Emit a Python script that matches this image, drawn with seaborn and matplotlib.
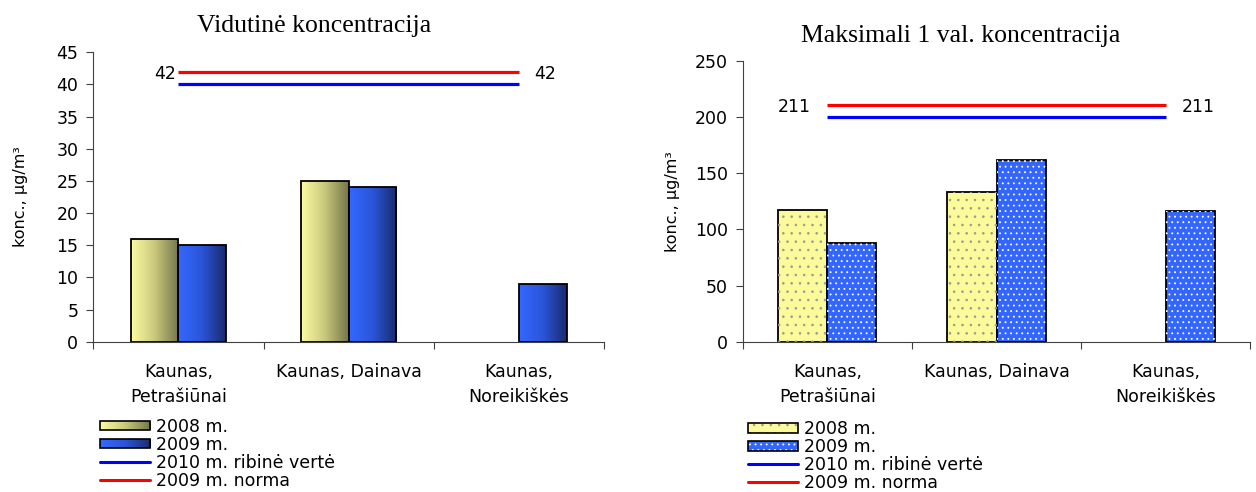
import numpy as np
import pandas as pd
import matplotlib
matplotlib.use("Agg")
import matplotlib.pyplot as plt
import seaborn as sns
from matplotlib.colors import LinearSegmentedColormap
from matplotlib.patches import Rectangle, Patch
from matplotlib.lines import Line2D
from matplotlib.legend_handler import HandlerBase
from matplotlib.image import BboxImage
from matplotlib.transforms import Bbox, TransformedBbox

# ---- data -------------------------------------------------------------
stations = ["Kaunas,\nPetrašiūnai", "Kaunas, Dainava", "Kaunas,\nNoreikiškės"]
years = ["2008 m.", "2009 m."]

mean_2008 = [16, 25, np.nan]
mean_2009 = [15, 24, 9]
max_2008 = [117, 133, np.nan]
max_2009 = [88, 162, 116]

mean_norm_2009 = 42
mean_limit_2010 = 40
max_norm_2009 = 211
max_limit_2010 = 200

mean_ticks = list(range(0, 46, 5))
max_ticks = list(range(0, 251, 50))

titles = ["Vidutinė koncentracija", "Maksimali 1 val. koncentracija"]
ylabel = "konc., µg/m³"
limit_label = "2010 m. ribinė vertė"
norm_label = "2009 m. norma"

# ---- styling ----------------------------------------------------------
sns.set_style("ticks")
plt.rcParams["font.family"] = ["DejaVu Sans"]
plt.rcParams["hatch.linewidth"] = 0.6
for key in ("text.color", "axes.labelcolor", "xtick.labelcolor", "ytick.labelcolor"):
    plt.rcParams[key] = "black"

W, H = 1256, 492
fig = plt.figure(figsize=(W / 100, H / 100), dpi=100)


def px_axes(x0, x1, ytop, ybot):
    return fig.add_axes([x0 / W, 1 - ybot / H, (x1 - x0) / W, (ybot - ytop) / H])


ax_mean = px_axes(93.3, 604.0, 52.3, 341.7)
ax_max = px_axes(742.7, 1250.3, 61.0, 341.7)

yellow = "#fbfb9c"
blue = "#3366ff"
grad_yellow = LinearSegmentedColormap.from_list("gy", ["#fcfca2", "#c8c87c", "#74744a"])
grad_blue = LinearSegmentedColormap.from_list("gb", ["#3468ff", "#2a55d8", "#1a2b6e"])
grad = np.linspace(0, 1, 128).reshape(1, -1)
dot_styles = [("#9a9a8a", ".."), ("white", "...")]


def frame(values_2008, values_2009):
    df = pd.DataFrame({
        "station": stations * 2,
        "year": [years[0]] * len(stations) + [years[1]] * len(stations),
        "value": list(values_2008) + list(values_2009),
    })
    return df.dropna()


def bars(ax, df, width):
    sns.barplot(data=df, x="station", y="value", hue="year", order=stations,
                hue_order=years, palette=[yellow, blue], saturation=1, width=width,
                gap=0, errorbar=None, edgecolor="black", linewidth=1.3, legend=False,
                ax=ax, zorder=2)


def style_axes(ax, ticks, title_xy, title, ylab_x):
    ax.set_xlim(-0.5, len(stations) - 0.5)
    ax.set_ylim(ticks[0], ticks[-1])
    ax.set_yticks(ticks)
    ax.set_yticklabels([str(t) for t in ticks])
    ax.set_xticks(range(len(stations)))
    ax.set_xticklabels(stations, linespacing=1.5)
    ax.set_xticks(np.arange(len(stations) + 1) - 0.5, minor=True)
    ax.tick_params(axis="x", which="major", length=0, pad=15, labelsize=12.5)
    ax.tick_params(axis="x", which="minor", length=5, width=0.8, color="#404040")
    ax.tick_params(axis="y", length=4.8, width=0.8, pad=6, labelsize=12.5, color="#404040")
    ax.set_xlabel("")
    ax.set_ylabel(ylabel, fontsize=11.5)
    ax.yaxis.set_label_coords(ylab_x, 0.5)
    for side in ("top", "right"):
        ax.spines[side].set_visible(False)
    for side in ("left", "bottom"):
        ax.spines[side].set_color("#404040")
        ax.spines[side].set_linewidth(0.8)
    fig.text(title_xy[0] / W, 1 - title_xy[1] / H, title, ha="center", va="baseline",
             fontsize=18.5, family="Liberation Serif")


def ref_lines(ax, norm, limit, pad_left, pad_right):
    x0, x1 = 0, len(stations) - 1
    ax.hlines(norm, x0, x1, color="#ff0000", lw=2.3, zorder=4)
    ax.hlines(limit, x0, x1, color="#0000ff", lw=2.3, zorder=4)
    ax.annotate(str(norm), (x0, norm), xytext=(-pad_left, 0), textcoords="offset points",
                ha="right", va="center_baseline", fontsize=12.5)
    ax.annotate(str(norm), (x1, norm), xytext=(pad_right, 0), textcoords="offset points",
                ha="left", va="center_baseline", fontsize=12.5)


# ---- left panel: annual mean, gradient bars ---------------------------
bars(ax_mean, frame(mean_2008, mean_2009), 0.56)
for cmap, cont in zip([grad_yellow, grad_blue], ax_mean.containers):
    for bar in cont:
        x, y = bar.get_x(), bar.get_y()
        w, h = bar.get_width(), bar.get_height()
        if not np.isfinite(h):
            continue
        im = ax_mean.imshow(grad, cmap=cmap, extent=(x, x + w, y, y + h), aspect="auto",
                            interpolation="bilinear", zorder=2.1)
        im.set_clip_path(bar)
        bar.set_facecolor("none")
        bar.set_zorder(2.2)
ref_lines(ax_mean, mean_norm_2009, mean_limit_2010, 2, 11)
style_axes(ax_mean, mean_ticks, (314, 31.7), titles[0], -0.128)

# ---- right panel: 1-hour maximum, dotted bars -------------------------
bars(ax_max, frame(max_2008, max_2009), 0.58)
for (dot_color, hatch), cont in zip(dot_styles, ax_max.containers):
    for bar in cont:
        x, y = bar.get_x(), bar.get_y()
        w, h = bar.get_width(), bar.get_height()
        if not np.isfinite(h):
            continue
        dots = Rectangle((x, y), w, h, facecolor="none", edgecolor=dot_color,
                         hatch=hatch, lw=0, zorder=2.1)
        ax_max.add_patch(dots)
        dots.set_clip_path(bar)
ref_lines(ax_max, max_norm_2009, max_limit_2010, 12, 11.5)
style_axes(ax_max, max_ticks, (961, 41.7), titles[1], -0.1245)


# ---- legends ----------------------------------------------------------
class GradientBox(HandlerBase):
    def __init__(self, cmap):
        super().__init__()
        self.cmap = cmap

    def create_artists(self, legend, orig_handle, xdescent, ydescent, width, height,
                       fontsize, trans):
        h = height * 0.8
        x0, y0 = -xdescent, -ydescent + (height - h) / 2
        bb = TransformedBbox(Bbox.from_bounds(x0, y0, width, h), trans)
        img = BboxImage(bb, cmap=self.cmap, norm=plt.Normalize(0, 1), interpolation="bilinear")
        img.set_data(grad)
        edge = Rectangle((x0, y0), width, h, facecolor="none", edgecolor="black",
                         lw=1.2, transform=trans)
        return [img, edge]


class DottedBox(HandlerBase):
    def __init__(self, face, dots, hatch):
        super().__init__()
        self.face, self.dots, self.hatch = face, dots, hatch

    def create_artists(self, legend, orig_handle, xdescent, ydescent, width, height,
                       fontsize, trans):
        h = height * 0.85
        x0, y0 = -xdescent, -ydescent + (height - h) / 2
        base = Rectangle((x0, y0), width, h, facecolor=self.face, lw=0, transform=trans)
        dots = Rectangle((x0, y0), width, h, facecolor="none", edgecolor=self.dots,
                         hatch=self.hatch, lw=0, transform=trans)
        edge = Rectangle((x0, y0), width, h, facecolor="none", edgecolor="black",
                         lw=1.2, transform=trans)
        return [base, dots, edge]


def legend(ax, handlers, anchor):
    proxies = [Patch(), Patch()]
    lines = [Line2D([], [], color="#0000ff", lw=2.2), Line2D([], [], color="#ff0000", lw=2.2)]
    hmap = {p: hd for p, hd in zip(proxies, handlers)}
    return ax.legend(proxies + lines, years + [limit_label, norm_label], handler_map=hmap,
                     loc="upper left", bbox_to_anchor=(anchor[0] / W, 1 - anchor[1] / H),
                     bbox_transform=fig.transFigure, frameon=False, fontsize=12.5,
                     handlelength=2.9, handleheight=0.6, handletextpad=0.35,
                     labelspacing=0.0, borderpad=0, borderaxespad=0)


legend(ax_mean, [GradientBox(grad_yellow), GradientBox(grad_blue)], (100, 418))
legend(ax_max, [DottedBox(yellow, *dot_styles[0]), DottedBox(blue, *dot_styles[1])], (748, 420))

fig.savefig("out.png", dpi=100)
